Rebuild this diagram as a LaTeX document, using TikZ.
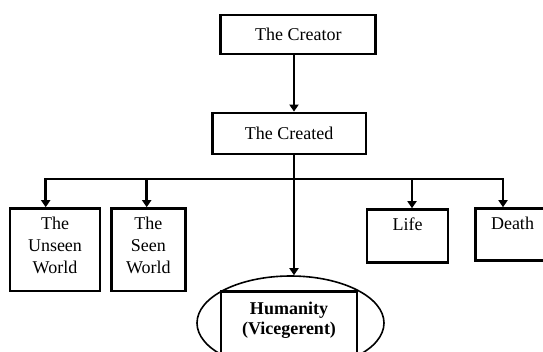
\documentclass[tikz,border=0pt]{standalone}
\usepackage{fontspec}
\setmainfont{Liberation Serif}
\usetikzlibrary{shapes.geometric, arrows.meta}
\tikzset{
box/.style={shape=rectangle, draw, line width=2.8pt, inner xsep=0pt, inner ysep=9pt, align=center, font=\fontsize{18}{22}\selectfont},
topbox/.style={box, anchor=north, text height=12pt}, ring/.style={shape=ellipse, draw, line width=1.6pt, inner sep=0pt},
link/.style={line width=2.8pt, line cap=rect}, arr/.style={line width=2.8pt, -{Triangle[width=9pt, length=7pt]}}}

\begin{document}
\begin{tikzpicture}[x=1pt, y=-1pt]
\useasboundingbox (0,0) rectangle (543,351);
\clip (0,0) rectangle (543,351);
\node [box, minimum width=155pt, minimum height=39pt] at (298.3, 34.5) (creator) {The Creator};
\node [box, minimum width=153.5pt, minimum height=41pt] at (289.2, 133.5) (created) {The Created};
% multi-line boxes: text height is measured from the last line
\node [topbox, minimum width=90pt, text height=55.5pt, text depth=8.8pt] at (55, 207.2) (unseen) {The\\Unseen\\World};
\node [topbox, minimum width=74pt, text height=55.5pt, text depth=8.8pt] at (148.4, 207.2) (seen) {The\\Seen\\World};
\node [topbox, minimum width=81pt, text depth=22.6pt] at (407.5, 208.2) (life) {Life};
\node [topbox, minimum width=74pt, text depth=22pt] at (512.5, 207.2) (death) {Death};
\node [ring, minimum width=187pt, minimum height=94pt] at (290.5, 323) (hum-ring) {};
\node [topbox, minimum width=136pt, text height=33.8pt, text depth=40pt, font=\fontsize{18}{20}\selectfont\bfseries] at (289, 290.2) (hum) {Humanity\\(Vicegerent)};

\coordinate (bus) at (294, 179);
\draw [arr] (creator.south -| bus) -- (created.north -| bus);
\draw [link] (created.south -| bus) -- (bus);
\draw [arr] (bus) -- (bus |- hum-ring.north);
\foreach \bx/\target in {45.7/unseen, 146.7/seen, 412/life, 503/death}{
      \coordinate (tap-\target) at (\bx, 179);
      \draw [arr] (tap-\target) -- (tap-\target |- \target.north);
}
\draw [link] (tap-unseen) -- (tap-death);
\end{tikzpicture}
\end{document}
